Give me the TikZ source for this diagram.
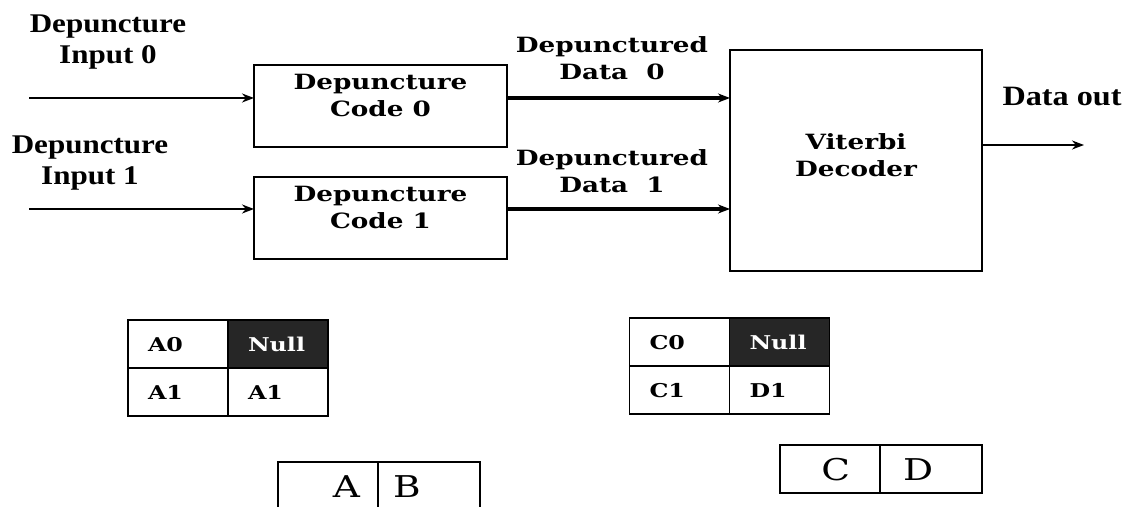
\documentclass[tikz,border=0pt]{standalone}
\usepackage{fontspec}
\setmainfont{Liberation Serif}
\newfontfamily\labfont[FakeStretch=1.15]{Liberation Serif}
\newfontfamily\boxfont[FakeStretch=1.25]{DejaVu Serif}
\usetikzlibrary{arrows.meta,positioning}
\tikzset{
  box/.style={draw,line width=1pt,minimum width=126.5pt,minimum height=41pt,
              align=center,inner sep=0pt,outer sep=0pt,
              font=\boxfont\bfseries\fontsize{10.5}{13.5}\selectfont},
  lab/.style={align=center,inner sep=0pt,
              font=\labfont\bfseries\fontsize{13.5}{15.5}\selectfont},
  dlab/.style={align=center,inner sep=0pt,
               font=\boxfont\bfseries\fontsize{10.5}{13.5}\selectfont},
  cell/.style={draw,line width=0.9pt,minimum height=24pt,outer sep=0pt,
               inner xsep=10pt,text width=30pt,align=left,text height=7pt,text depth=0pt,
               font=\boxfont\bfseries\fontsize{9.5}{11}\selectfont},
  nul/.style={cell,fill=black!85,text=white},
  big/.style={draw,line width=0.9pt,minimum height=24pt,outer sep=0pt,
              text height=11pt,text depth=0pt,font=\boxfont\fontsize{15}{17}\selectfont},
  ar/.style={-{Stealth[length=6pt,width=4.5pt]},line width=0.9pt},
  arr/.style={-{Stealth[length=6pt,width=4.5pt]},line width=1.6pt},
}
\begin{document}
\begin{tikzpicture}[x=0.5pt,y=-0.5pt]
  \useasboundingbox (0,0) rectangle (1133,507);
  \clip (0,0) rectangle (1133,507);
  % blocks (text sits in the upper part)
  \node[box] (c0) at (380.5,106) {Depuncture\\Code 0\\[-3pt]~};
  \node[box,below=15pt of c0] (c1) {Depuncture\\Code 1\\[-3pt]~};
  \node[box,minimum width=126pt,minimum height=110.5pt,anchor=north west] (vit) at (730,50) {Viterbi\\Decoder\\[-8pt]~};
  % labels
  \node[lab] (l0) at (108,42) {Depuncture\\Input 0};
  \node[lab] (l1) at (90,163) {Depuncture\\Input 1};
  \node[dlab] (d0) at (612,58) {Depunctured\\Data\ \ 0};
  \node[dlab] (d1) at (612,171) {Depunctured\\Data\ \ 1};
  \node[lab,font=\labfont\bfseries\fontsize{14}{16}\selectfont] (dout) at (1062,97) {Data out};
  % arrows
  \coordinate (i0) at (29,98);
  \coordinate (i1) at (29,209);
  \coordinate (o) at (1084,145);
  \draw[ar] (i0) -- (i0 -| c0.west);
  \draw[ar] (i1) -- (i1 -| c1.west);
  \draw[arr] (i0 -| c0.east) -- (i0 -| vit.west);
  \draw[arr] (i1 -| c1.east) -- (i1 -| vit.west);
  \draw[ar] (o -| vit.east) -- (o);
  % tables
  \node[cell] (a00) at (178,344) {A0};
  \node[nul,right=0pt of a00] (a01) {Null};
  \node[cell,below=0pt of a00] (a10) {A1};
  \node[cell,right=0pt of a10] (a11) {A1};
  \node[cell] (k00) at (679.5,342) {C0};
  \node[nul,right=0pt of k00] (k01) {Null};
  \node[cell,below=0pt of k00] (k10) {C1};
  \node[cell,right=0pt of k10] (k11) {D1};
  \node[big,inner xsep=9pt,text width=32pt,align=right] (ba) at (328,486) {A};
  \node[big,inner xsep=7.5pt,text width=36pt,align=left,right=0pt of ba] (bb) {B};
  \node[big,inner xsep=15pt,text width=20pt,align=right] (bc) at (830,469) {C};
  \node[big,inner xsep=11.5pt,text width=28pt,align=left,right=0pt of bc] (bd) {D};
\end{tikzpicture}
\end{document}
